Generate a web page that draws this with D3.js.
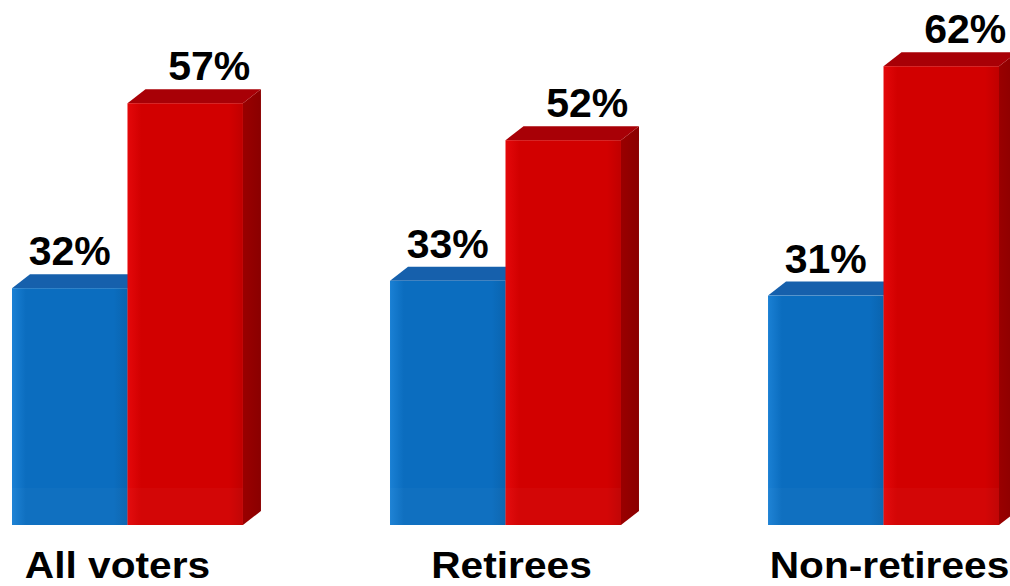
<!DOCTYPE html>
<html>
<head>
<meta charset="utf-8">
<script src="https://cdn.jsdelivr.net/npm/d3@7"></script>
<style>
  html, body { margin: 0; padding: 0; background: #ffffff; }
  svg { display: block; }
  text { font-family: "Liberation Sans", Arial, sans-serif; font-weight: bold; fill: #000; }
</style>
</head>
<body>
<svg id="chart" width="1010" height="586"></svg>
<script>
// Chart data
const categories = ["All voters", "Retirees", "Non-retirees"];
const seriesKeys = ["blue", "red"];
const blueValues = [32, 33, 31];
const redValues = [57, 52, 62];

const W = 1010, H = 586;
const baseY = 525;          // floor of the bars
const depthX = 18, depthY = 14; // 3D extrusion offset

const svg = d3.select("#chart");

const x0 = d3.scaleBand().domain(categories).range([12, 999]).paddingInner(0.389).paddingOuter(0);
const x1 = d3.scaleBand().domain(seriesKeys).range([0, x0.bandwidth()]).padding(0);
const y = d3.scaleLinear().domain([0, 100]).range([baseY, baseY - 740]);

const colors = {
  blue: { front: "#0b6dbf", frontEdge: "#1a80d4", top: "#1660ac", side: "#0a4d8c" },
  red:  { front: "#d20000", frontEdge: "#e4080a", top: "#a80006", side: "#8a0000" }
};

// gradients for front and side faces
const defs = svg.append("defs");
seriesKeys.forEach(k => {
  const g = defs.append("linearGradient").attr("id", "front-" + k)
    .attr("x1", "0").attr("x2", "1").attr("y1", "0").attr("y2", "0");
  g.append("stop").attr("offset", "0").attr("stop-color", colors[k].frontEdge);
  g.append("stop").attr("offset", "0.12").attr("stop-color", colors[k].front);
  g.append("stop").attr("offset", "0.88").attr("stop-color", colors[k].front);
  g.append("stop").attr("offset", "1").attr("stop-color", d3.color(colors[k].front).darker(0.25));
  const s = defs.append("linearGradient").attr("id", "side-" + k)
    .attr("x1", "0").attr("x2", "1").attr("y1", "0").attr("y2", "0");
  s.append("stop").attr("offset", "0").attr("stop-color", d3.color(colors[k].side).brighter(0.3));
  s.append("stop").attr("offset", "1").attr("stop-color", colors[k].side);
});

const rows = categories.map((c, i) => ({ category: c, blue: blueValues[i], red: redValues[i] }));

rows.forEach(row => {
  const g = svg.append("g").attr("transform", `translate(${x0(row.category)},0)`);
  seriesKeys.forEach(k => {
    const v = row[k];
    const xl = x1(k), w = x1.bandwidth(), xr = xl + w;
    const yt = y(v);
    const c = colors[k];
    // right side face
    g.append("path")
      .attr("d", `M${xr},${yt} L${xr + depthX},${yt - depthY} L${xr + depthX},${baseY - depthY} L${xr},${baseY} Z`)
      .attr("fill", `url(#side-${k})`);
    // top face
    g.append("path")
      .attr("d", `M${xl},${yt} L${xl + depthX},${yt - depthY} L${xr + depthX},${yt - depthY} L${xr},${yt} Z`)
      .attr("fill", c.top);
    // front face
    g.append("rect")
      .attr("x", xl).attr("y", yt).attr("width", w).attr("height", baseY - yt)
      .attr("fill", `url(#front-${k})`);
    // faint reflection band near the floor
    g.append("rect")
      .attr("x", xl).attr("y", baseY - 37).attr("width", w).attr("height", 37)
      .attr("fill", "#ffffff").attr("opacity", 0.025);
    // value label
    const off = k === "red" ? 24 : 0;
    g.append("text")
      .attr("x", xl + w / 2 + off)
      .attr("y", yt - 23)
      .attr("text-anchor", "middle")
      .attr("font-size", 41)
      .text(v + "%");
  });
  // category label (slightly widened lettering)
  const cx = x0.bandwidth() / 2 + (row.category === "All voters" ? -10 : 6);
  g.append("text")
    .attr("transform", `translate(${cx},578) scale(1.13,1)`)
    .attr("text-anchor", "middle")
    .attr("font-size", 36)
    .text(row.category);
});
</script>
</body>
</html>
